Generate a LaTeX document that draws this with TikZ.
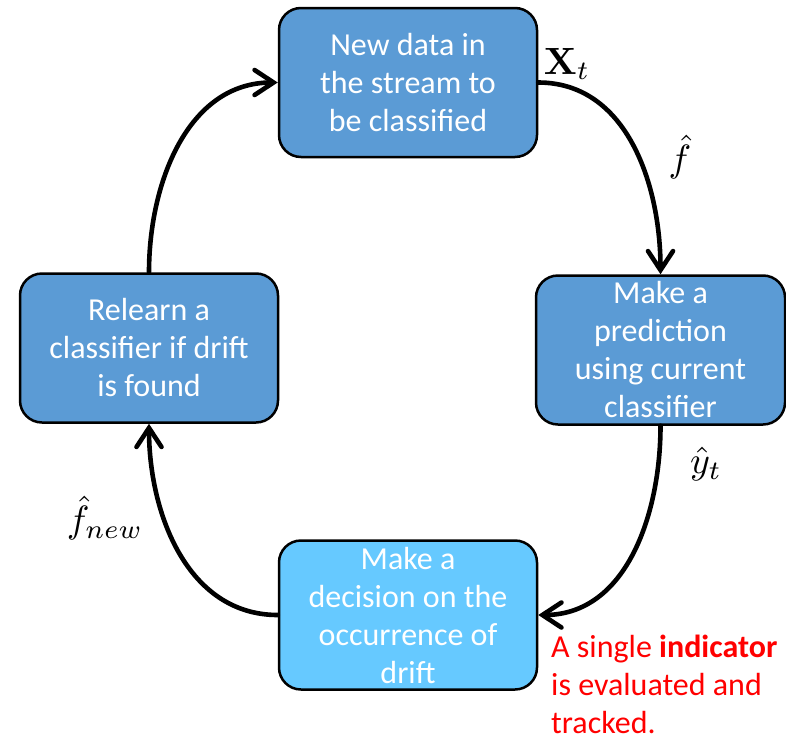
\documentclass[tikz,border=0pt]{standalone}
\usepackage{graphicx}
\usepackage[no-math]{fontspec}
\setmainfont{Carlito}
\usetikzlibrary{arrows.meta}
\definecolor{boxblue}{HTML}{5B9BD5}
\definecolor{boxlight}{HTML}{66C9FF}
\definecolor{notered}{HTML}{FF0000}
\newcommand{\biglabel}[1]{\scalebox{3.8}{$#1$}}
\begin{document}
\begin{tikzpicture}[x=1pt,y=-1pt,
  stage/.style={draw=black, line width=2.5pt, rounded corners=22pt,
    minimum width=258pt, minimum height=149pt, inner sep=0pt,
    align=center, text=white, font=\fontsize{32}{38}\selectfont},
  flow/.style={line width=4.6pt, line cap=round,
    -{Straight Barb[length=19pt,width=25pt,line cap=round]}},
  mathlabel/.style={inner sep=0pt}]
\useasboundingbox (0,0) rectangle (786,736);

% the four stages of the loop
\node[stage, fill=boxblue]  (newdata)  at (408,82.5) {New data in\\the stream to\\be classified};
\node[stage, fill=boxblue, minimum width=249pt] (predict) at (660.5,350) {Make a\\prediction\\using current\\classifier};
\node[stage, fill=boxlight] (decide)   at (408,615)  {Make a\\decision on the\\occurrence of\\drift};
\node[stage, fill=boxblue]  (relearn)  at (149,348)  {Relearn a\\classifier if drift\\is found};

% connectors around the loop
\draw[flow] (newdata.east) to[out=0, in=90] (predict.north);
\draw[flow] (predict.south) to[out=-90, in=0] (decide.east);
\draw[flow] (decide.west) to[out=180, in=-90] (relearn.south);
\draw[flow] (relearn.north) to[out=90, in=180] (newdata.west);

% quantities passed along the loop
\node[mathlabel] (xt)   at (567,64)  {\biglabel{\mathbf{X}_t}};
\node[mathlabel] (fhat) at (680,157) {\biglabel{\hat{f}}};
\node[mathlabel] (yhat) at (706,464) {\biglabel{\hat{y}_t}};
\node[mathlabel] (fnew) at (105,518) {\biglabel{\hat{f}_{new}}};

% note on the decision step
\node[anchor=north west, inner sep=0pt, align=left, text=notered,
  font=\fontsize{32}{38}\selectfont] (note) at (551,635)
  {A single \textbf{indicator}\\is evaluated and\\tracked.};
\end{tikzpicture}
\end{document}
